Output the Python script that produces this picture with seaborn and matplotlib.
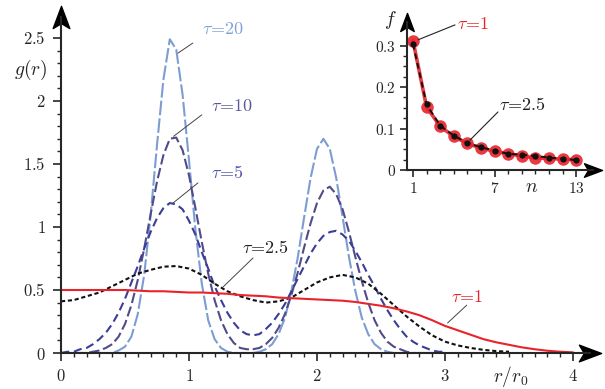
import numpy as np
import pandas as pd
import matplotlib
matplotlib.use('Agg')
import matplotlib.pyplot as plt
from matplotlib.path import Path
from matplotlib.ticker import FixedLocator
import seaborn as sns

#======== main panel: g(r) ========#
r_fine = np.round(np.arange(0, 3.001, 0.05), 2)   # grid for the tau = 5, 10, 20 curves
r_coarse = np.round(np.arange(0, 4.001, 0.1), 1)  # grid for tau = 1

g_tau20 = [0, 0, 0, 0, 0, 0, 0, 0, 0, 0.02, 0.05, 0.13, 0.31, 0.62, 1.09, 1.65, 2.17, 2.49,
           2.41, 2.05, 1.53, 0.98, 0.55, 0.26, 0.11, 0.04, 0.01, 0, 0, 0, 0, 0.01, 0.03, 0.07,
           0.15, 0.28, 0.49, 0.76, 1.08, 1.39, 1.62, 1.70, 1.62, 1.39, 1.08, 0.76, 0.49, 0.28,
           0.15, 0.07, 0.03, 0.01, 0, 0, 0, 0, 0, 0, 0, 0, 0]
g_tau10 = [0, 0, 0, 0, 0, 0.01, 0.02, 0.04, 0.07, 0.13, 0.23, 0.38, 0.58, 0.83, 1.10, 1.36,
           1.57, 1.70, 1.71, 1.61, 1.41, 1.15, 0.88, 0.63, 0.42, 0.26, 0.15, 0.08, 0.04, 0.03,
           0.03, 0.04, 0.07, 0.12, 0.20, 0.31, 0.46, 0.64, 0.84, 1.03, 1.19, 1.29, 1.32, 1.26,
           1.14, 0.96, 0.76, 0.57, 0.40, 0.26, 0.16, 0.09, 0.05, 0.03, 0.01, 0, 0, 0, 0, 0, 0]
g_tau5 = [0, 0.01, 0.01, 0.03, 0.04, 0.07, 0.11, 0.16, 0.23, 0.32, 0.43, 0.56, 0.69, 0.83,
          0.96, 1.07, 1.15, 1.19, 1.18, 1.14, 1.05, 0.94, 0.80, 0.67, 0.53, 0.42, 0.32, 0.24,
          0.18, 0.15, 0.14, 0.15, 0.19, 0.24, 0.31, 0.39, 0.49, 0.59, 0.69, 0.79, 0.87, 0.93,
          0.96, 0.97, 0.94, 0.89, 0.81, 0.72, 0.62, 0.53, 0.43, 0.34, 0.26, 0.19, 0.13, 0.09,
          0.06, 0.04, 0.02, 0.01, 0.01]
g_tau2_5 = [0.41, 0.42, 0.45, 0.48, 0.53, 0.58, 0.63, 0.66, 0.685, 0.69, 0.67, 0.62, 0.55,
            0.49, 0.45, 0.42, 0.40, 0.41, 0.44, 0.50, 0.56, 0.60, 0.62, 0.60, 0.55, 0.47, 0.38,
            0.29, 0.21, 0.14, 0.09, 0.06, 0.04, 0.025, 0.015, 0.01]
g_tau1 = [0.50, 0.50, 0.50, 0.50, 0.50, 0.50, 0.495, 0.49, 0.49, 0.485, 0.48, 0.48, 0.475,
          0.47, 0.46, 0.455, 0.45, 0.44, 0.435, 0.43, 0.425, 0.42, 0.415, 0.405, 0.39, 0.375,
          0.355, 0.33, 0.30, 0.26, 0.215, 0.18, 0.145, 0.11, 0.085, 0.065, 0.045, 0.03, 0.018,
          0.01, 0.005]

#======== inset: f(n) ========#
n_vals = list(range(1, 14))
f_tau1 = [0.312, 0.152, 0.105, 0.081, 0.064, 0.053, 0.045, 0.039, 0.034, 0.029, 0.028, 0.026, 0.025]
f_tau2_5 = [0.304, 0.158, 0.107, 0.083, 0.065, 0.055, 0.047, 0.039, 0.037, 0.034, 0.030, 0.027, 0.024]

curve_order = ['20', '10', '5', '2.5', '1']
line_colors = {'20': '#7d9dd2', '10': '#514b8a', '5': '#3b3d96', '2.5': '#111111', '1': '#e8232b'}
text_colors = {'20': '#83a2d6', '10': '#5a579c', '5': '#5456a6', '2.5': '#222222', '1': '#e8232b'}
line_dashes = {'20': (7, 1.5), '10': (5, 1.8), '5': (4, 2.2), '2.5': (2, 1.3), '1': ''}

main_df = pd.concat([
    pd.DataFrame({'r': r_fine, 'g': g_tau20, 'tau': '20'}),
    pd.DataFrame({'r': r_fine, 'g': g_tau10, 'tau': '10'}),
    pd.DataFrame({'r': r_fine, 'g': g_tau5, 'tau': '5'}),
    pd.DataFrame({'r': r_coarse[:len(g_tau2_5)], 'g': g_tau2_5, 'tau': '2.5'}),
    pd.DataFrame({'r': r_coarse, 'g': g_tau1, 'tau': '1'}),
], ignore_index=True)

sns.set_style('ticks')
plt.rcParams['mathtext.fontset'] = 'cm'
plt.rcParams['font.family'] = ['DejaVu Serif']

fig = plt.figure(figsize=(6.05, 3.89), dpi=100)
ax = fig.add_axes([61/605, 36/389, 4.13*128/605, 2.67*126/389])

sns.lineplot(data=main_df, x='r', y='g', hue='tau', style='tau', hue_order=curve_order,
             style_order=curve_order, palette=line_colors, dashes=line_dashes,
             linewidth=1.5, estimator=None, sort=False, legend=False, ax=ax)

ax.set_xlim(0, 4.13)
ax.set_ylim(0, 2.67)
sns.despine(ax=ax)
ax.spines['left'].set_linewidth(1.5)
ax.spines['bottom'].set_linewidth(1.5)

xt = [0, 1, 2, 3, 4]
yt = [0, 0.5, 1, 1.5, 2, 2.5]
yt_labels = ['0', '0.5', '1', '1.5', '2', '2.5']
ax.set_xticks(xt, labels=[f'${v}$' for v in xt])
ax.set_yticks(yt, labels=[f'${v}$' for v in yt_labels])
ax.xaxis.set_minor_locator(FixedLocator(np.arange(0, 4.001, 0.1)))
ax.yaxis.set_minor_locator(FixedLocator(np.arange(0, 2.501, 0.1)))
ax.tick_params(which='major', direction='out', length=6, width=1.2, labelsize=12, pad=5)
ax.tick_params(which='minor', direction='out', length=3, width=1.0)
ax.set_xlabel('')
ax.set_ylabel('')

# arrow heads on the axes
arrow_right = Path([(1, 0), (-1, -0.75), (-0.55, 0), (-1, 0.75), (1, 0)],
                   [Path.MOVETO, Path.LINETO, Path.LINETO, Path.LINETO, Path.CLOSEPOLY])
arrow_up = Path([(0, 1), (-0.75, -1), (0, -0.55), (0.75, -1), (0, 1)],
                [Path.MOVETO, Path.LINETO, Path.LINETO, Path.LINETO, Path.CLOSEPOLY])
ax.plot([1], [0], marker=arrow_right, ms=16, color='k', transform=ax.transAxes, clip_on=False)
ax.plot([0], [1], marker=arrow_up, ms=16, color='k', transform=ax.transAxes, clip_on=False)

ax.text(-0.24, 2.25, r'$g(r)$', ha='center', va='center', fontsize=14)
ax.text(3.51, -0.19, r'$r/r_0$', ha='center', va='center', fontsize=14)

# curve labels with leader lines
labels_main = [
    ('20', 1.27, 2.57, (0.914, 2.38), (1.03, 2.46)),
    ('10', 1.336, 1.96, (0.88, 1.72), (1.10, 1.89)),
    ('5', 1.30, 1.43, (0.875, 1.19), (1.07, 1.35)),
    ('2.5', 1.60, 0.83, (1.266, 0.524), (1.50, 0.754)),
    ('1', 3.17, 0.444, (3.02, 0.238), (3.17, 0.38)),
]
for tau, tx, ty, p0, p1 in labels_main:
    ax.plot([p0[0], p1[0]], [p0[1], p1[1]], color='#444444', lw=0.7)
    ax.text(tx, ty, rf'$\tau\!=\!{tau}$', color=text_colors[tau], ha='center', va='center',
            fontsize=13)

#======== inset ========#
axi = fig.add_axes([407/605, 219/389, 186/605, 148/389])
axi.set_facecolor('white')
sns.lineplot(x=n_vals, y=f_tau1, color='#e8232b', linewidth=2.6, marker='o', markersize=9,
             markeredgewidth=0, alpha=0.9, ax=axi)
sns.lineplot(x=n_vals, y=f_tau2_5, color='#111111', linewidth=1.4, linestyle=(0, (3, 2)),
             marker='o', markersize=4.5, markeredgewidth=0, ax=axi)
axi.set_xlim(0.56, 14.24)
axi.set_ylim(0, 0.357)
sns.despine(ax=axi)
axi.spines['left'].set_linewidth(1.5)
axi.spines['bottom'].set_linewidth(1.5)
axi.set_xticks([1, 7, 13], labels=['$1$', '$7$', '$13$'])
axi.set_yticks([0, 0.1, 0.2, 0.3], labels=['$0$', '$0.1$', '$0.2$', '$0.3$'])
axi.xaxis.set_minor_locator(FixedLocator(n_vals))
axi.yaxis.set_minor_locator(FixedLocator(np.arange(0, 0.301, 0.025)))
axi.tick_params(which='major', direction='out', length=5, width=1.2, labelsize=11, pad=3)
axi.tick_params(which='minor', direction='out', length=3, width=1.0)
axi.plot([1], [0], marker=arrow_right, ms=13, color='k', transform=axi.transAxes, clip_on=False)
axi.plot([0], [1], marker=arrow_up, ms=13, color='k', transform=axi.transAxes, clip_on=False)
axi.text(-0.69, 0.362, r'$f$', ha='center', va='center', fontsize=14)
axi.text(9.75, -0.04, r'$n$', ha='center', va='center', fontsize=14)

axi.plot([1.37, 4.09], [0.314, 0.350], color='#222222', lw=0.8)
axi.text(5.41, 0.353, r'$\tau\!=\!1$', color=text_colors['1'], ha='center', va='center', fontsize=13)
axi.plot([5.19, 7.25], [0.072, 0.14], color='#222222', lw=0.8)
axi.text(9.09, 0.157, r'$\tau\!=\!2.5$', color='#222222', ha='center', va='center', fontsize=13)

fig.savefig('out.png', dpi=100)
